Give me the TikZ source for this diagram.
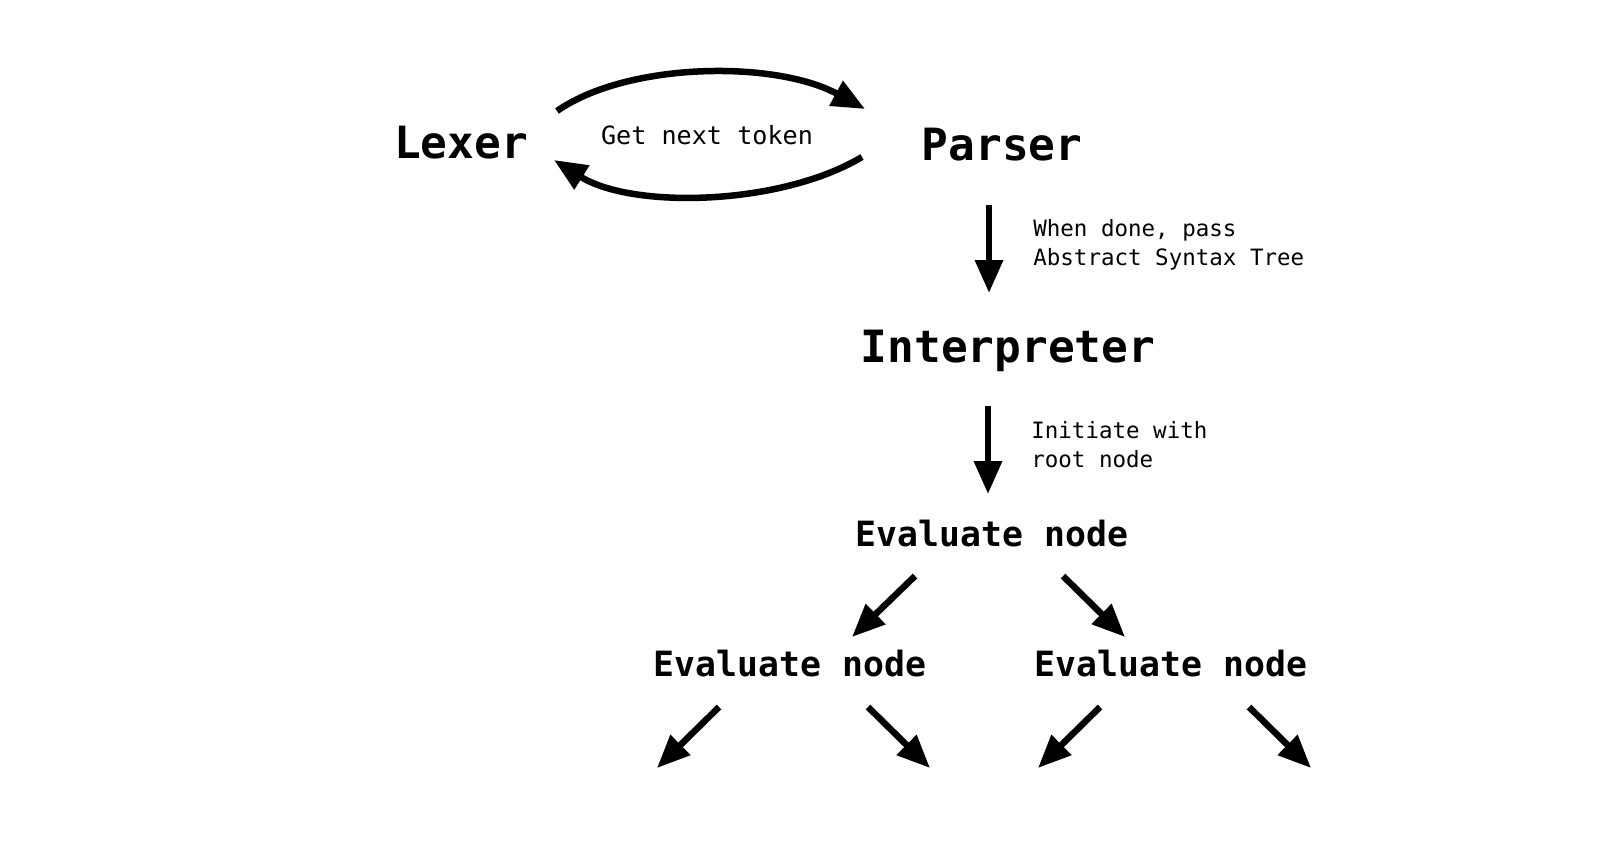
\documentclass[tikz,border=0pt]{standalone}
\usepackage{fontspec}
\usetikzlibrary{arrows.meta,positioning}
\newfontfamily\codefont{DejaVu Sans Mono}
\tikzset{
stage/.style={inner sep=0pt,anchor=base,font=\codefont\bfseries\fontsize{25.3}{30}\selectfont},
evalbox/.style={inner sep=0pt,anchor=base,font=\codefont\bfseries\fontsize{19.8}{24}\selectfont},
note/.style={inner sep=0pt,anchor=base west,align=left,font=\codefont\fontsize{12.8}{16.5}\selectfont},
arr/.style={-{Triangle[length=6.6mm,width=5.4mm]},line width=1.3mm,draw=black}
}
\begin{document}
\begin{tikzpicture}[x=0.2mm,y=-0.2mm]
\useasboundingbox (0,0) rectangle (1624,842);
\node[stage] (lexer) at (461,158) {Lexer};
\node[stage] (parser) at (1002,160) {Parser};
\node[stage] (interp) at (1008,362) {Interpreter};
\node[evalbox] (evaltop) at (992,546) {Evaluate node};
\node[evalbox] (evalleft) at (790,676) {Evaluate node};
\node[evalbox] (evalright) at (1171,676) {Evaluate node};
\node[note,anchor=base,font=\codefont\fontsize{14.3}{17}\selectfont] (token) at (707,144) {Get next token};
\node[note] (pass) at (1033,265) {When done, pass\\Abstract Syntax Tree};
\node[note] (init) at (1031,467) {Initiate with\\root node};
% lexer <-> parser loop
\draw[arr] ([shift={(96,-47)}]lexer.base) .. controls +(70,-49) and +(-90,-49) .. ([shift={(-137,-51)}]parser.base);
\draw[arr] ([shift={(-140,-3)}]parser.base) .. controls +(-82,49) and +(78,49) .. ([shift={(93,2)}]lexer.base);
% pipeline
\draw[arr] ([shift={(-13,45)}]parser.base) -- ([shift={(-19,-69)}]interp.base);
\draw[arr] ([shift={(-20,44)}]interp.base) -- ([shift={(-4,-52)}]evaltop.base);
\draw[arr] ([shift={(-77,30)}]evaltop.base) -- ([shift={(62,-39)}]evalleft.base);
\draw[arr] ([shift={(71,30)}]evaltop.base) -- ([shift={(-46,-39)}]evalright.base);
% open recursion
\foreach \n in {evalleft,evalright}{
  \coordinate (\n-l) at ([shift={(-133,92)}]\n.base);
  \coordinate (\n-r) at ([shift={(140,92)}]\n.base);
  \draw[arr] ([shift={(-71,31)}]\n.base) -- (\n-l);
  \draw[arr] ([shift={(78,31)}]\n.base) -- (\n-r);
}
\end{tikzpicture}
\end{document}
